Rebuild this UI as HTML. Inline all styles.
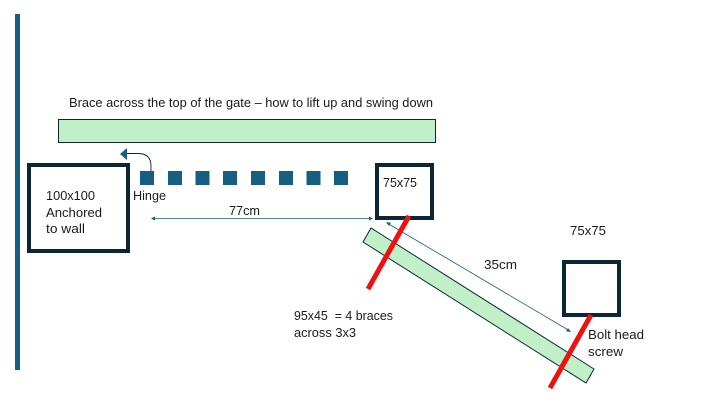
<!DOCTYPE html>
<html>
<head>
<meta charset="utf-8">
<style>
html,body{margin:0;padding:0;background:#fff;width:720px;height:405px;overflow:hidden}
svg{display:block}
text{font-family:"Liberation Sans",sans-serif;font-size:13px;fill:#1a1a1a}
</style>
</head>
<body>
<svg width="720" height="405" viewBox="0 0 720 405" xmlns="http://www.w3.org/2000/svg">
<rect width="720" height="405" fill="#fff"/>
<rect x="15" y="14" width="5" height="356" fill="#156082"/>

<text x="69" y="107" textLength="364" lengthAdjust="spacingAndGlyphs">Brace across the top of the gate – how to lift up and swing down</text>
<rect x="58.500" y="119.500" width="377" height="23" fill="#C1F0C8" stroke="#0B2735" stroke-width="1"/>

<!-- Wall post -->
<rect x="29" y="165" width="99" height="86" fill="#fff" stroke="#0B2735" stroke-width="4"/>
<text x="46" y="200" textLength="49" lengthAdjust="spacingAndGlyphs">100x100</text>
<text x="46" y="217" textLength="56" lengthAdjust="spacingAndGlyphs">Anchored</text>
<text x="46" y="233" textLength="39" lengthAdjust="spacingAndGlyphs">to wall</text>

<!-- Hinge squares -->
<g fill="#156082">
<rect x="140" y="171" width="14" height="14"/>
<rect x="168" y="171" width="14" height="14"/>
<rect x="195.500" y="171" width="14" height="14"/>
<rect x="223" y="171" width="14" height="14"/>
<rect x="251" y="171" width="14" height="14"/>
<rect x="279" y="171" width="14" height="14"/>
<rect x="306.500" y="171" width="14" height="14"/>
<rect x="334" y="171" width="14" height="14"/>
</g>
<text x="133" y="200" textLength="33" lengthAdjust="spacingAndGlyphs">Hinge</text>

<!-- Curved arrow -->
<path d="M151 171 V166 Q151 153.500 138 153.500 H126" fill="none" stroke="#0B2735" stroke-width="0.900"/>
<polygon points="120,154 127,148 127,160" fill="#156082"/>

<!-- 77cm dimension -->
<line x1="152" y1="218.500" x2="372" y2="218.500" stroke="#156082" stroke-width="0.800"/>
<polygon points="151,218.500 155,216.500 155,220.500" fill="#156082"/>
<polygon points="373,218.500 369,216.500 369,220.500" fill="#156082"/>
<text x="229" y="215" textLength="31" lengthAdjust="spacingAndGlyphs">77cm</text>

<!-- Post 1 -->
<rect x="377" y="165" width="55" height="53" fill="#fff" stroke="#0B2735" stroke-width="4"/>
<text x="383" y="187" textLength="34" lengthAdjust="spacingAndGlyphs">75x75</text>

<!-- Diagonal brace -->
<polygon points="371,228 363,242 586,383 594,369" fill="#C1F0C8" stroke="#0B2735" stroke-width="1"/>

<!-- Post 2 -->
<rect x="564" y="262" width="55" height="53" fill="#fff" stroke="#0B2735" stroke-width="4"/>
<text x="570" y="235" textLength="36" lengthAdjust="spacingAndGlyphs">75x75</text>

<!-- 35cm dimension -->
<line x1="387" y1="223" x2="570" y2="331" stroke="#156082" stroke-width="0.800"/>
<polygon points="386,222 391,222.800 389,226" fill="#156082"/>
<polygon points="571,332 566,331.200 568,328" fill="#156082"/>
<text x="484" y="269" textLength="33" lengthAdjust="spacingAndGlyphs">35cm</text>

<!-- Red screws -->
<line x1="409" y1="216" x2="368" y2="289" stroke="#EE1111" stroke-width="5"/>
<line x1="591" y1="315" x2="550" y2="388" stroke="#EE1111" stroke-width="5"/>

<text x="294" y="320" textLength="99" lengthAdjust="spacingAndGlyphs" xml:space="preserve">95x45  = 4 braces</text>
<text x="294" y="337" textLength="62" lengthAdjust="spacingAndGlyphs">across 3x3</text>

<text x="588" y="339" textLength="56" lengthAdjust="spacingAndGlyphs">Bolt head</text>
<text x="588" y="356" textLength="35" lengthAdjust="spacingAndGlyphs">screw</text>
</svg>
</body>
</html>
